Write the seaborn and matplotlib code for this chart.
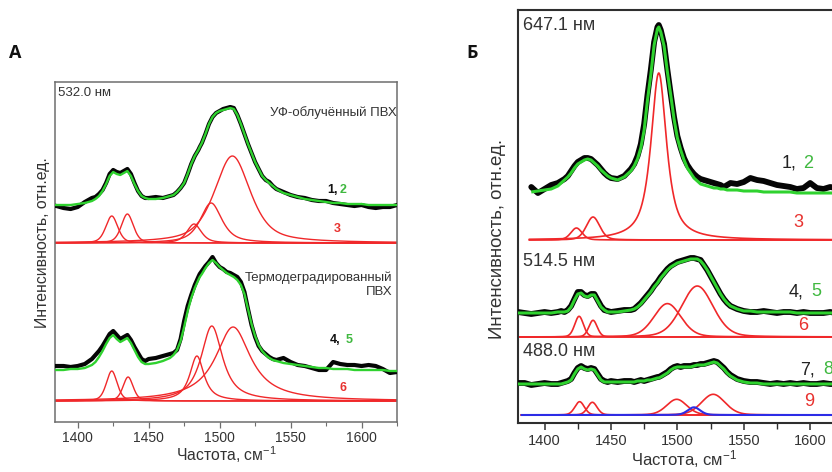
import numpy as np
import pandas as pd
import matplotlib
matplotlib.use("Agg")
import matplotlib.pyplot as plt
import seaborn as sns
from matplotlib.ticker import MultipleLocator

# ---------------- data ----------------
# Raman shift grid (cm^-1) on which the measured spectra and fit curves were read
freq_grid = [1380, 1385, 1390, 1395, 1400, 1405, 1410,
             1412.5, 1415, 1417.5, 1420, 1422.5, 1425, 1427.5, 1430, 1432.5,
             1435, 1437.5, 1440, 1442.5, 1445, 1447.5,
             1450, 1455, 1460, 1465,
             1467.5, 1470, 1472.5, 1475, 1477.5, 1480, 1482.5, 1485, 1486,
             1487.5, 1490, 1492.5, 1495, 1497.5, 1500, 1502.5, 1505, 1507.5,
             1510, 1512.5, 1515, 1517.5, 1520, 1522.5, 1525, 1527.5, 1530,
             1532.5, 1535, 1537.5, 1540,
             1545, 1550, 1555, 1560, 1565, 1570, 1575, 1580, 1585, 1590,
             1595, 1600, 1605, 1610, 1615, 1620, 1625, 1630]

# ---- Panel A, 532.0 nm, UV-irradiated PVC (curves 1, 2, 3) ----
a1_exp = [38, 37, 35, 34, 36, 41, 45, 46, 49, 53,
          60, 69, 73, 71, 70, 72, 74, 69, 60, 52,
          47, 45, 45, 46, 45, 47, 48, 51, 55, 60,
          69, 79, 87, 93, 96, 100, 109, 119, 126, 130,
          132, 134, 135, 136, 135, 128, 119, 109, 99, 90,
          81, 74, 67, 63, 61, 57, 54, 51, 48, 46,
          45, 43, 42, 42, 40, 39, 38, 37, 38, 36,
          35, 36, 36, 38, 38]
a1_fit = [38, 38, 38, 38, 39, 40, 42, 44, 47, 52,
          59, 67, 71, 69, 68, 70, 72, 67, 59, 52,
          47, 45, 44, 44, 45, 47, 48, 51, 55, 60,
          69, 79, 87, 93, 96, 100, 109, 119, 126, 130,
          132, 133, 134, 135, 134, 128, 119, 109, 99, 90,
          81, 74, 67, 63, 60, 57, 54, 50, 48, 46,
          44, 43, 42, 41, 40, 40, 39, 39, 39, 38,
          38, 38, 38, 38, 38]
a1_centers = [1424, 1435, 1482, 1494, 1509]
a1_heights = [27, 29, 19, 40, 87]
a1_widths = [10, 10, 12, 18, 30]
a1_eta = [0.4, 0.4, 0.6, 0.7, 0.6]

# ---- Panel A, thermodegraded PVC (curves 4, 5, 6) ----
a2_exp = [35, 35, 35, 34, 35, 37, 42, 46, 50, 55,
          61, 67, 70, 66, 62, 64, 66, 61, 54, 48,
          42, 40, 42, 43, 45, 47, 48, 51, 62, 80,
          95, 106, 116, 124, 127, 130, 135, 139, 144, 138,
          134, 132, 129, 128, 126, 124, 119, 109, 92, 76,
          64, 55, 50, 47, 44, 42, 41, 43, 39, 36,
          35, 33, 31, 31, 39, 37, 36, 36, 35, 36,
          35, 32, 28, 29, 30]
a2_fit = [31, 31, 31, 32, 32, 33, 36, 39, 44, 50,
          57, 63, 66, 62, 59, 61, 63, 58, 51, 44,
          39, 37, 37, 38, 40, 43, 46, 51, 60, 74,
          90, 103, 113, 121, 124, 127, 133, 138, 141, 138,
          134, 131, 128, 126, 124, 121, 116, 107, 92, 77,
          65, 56, 50, 46, 43, 41, 40, 38, 37, 36,
          35, 34, 33, 33, 32, 32, 32, 31, 31, 31,
          31, 31, 30, 30, 30]
a2_centers = [1424, 1435.5, 1484, 1494.5, 1509.5]
a2_heights = [30, 24, 45, 75, 74]
a2_widths = [9, 8.5, 12, 18, 30]
a2_eta = [0.4, 0.4, 0.9, 0.9, 1.0]

# ---- Panel B, 647.1 nm (curves 1, 2, 3), measured from 1390 cm^-1 ----
b1_exp = [53, 47, 51, 55, 57,
          59, 61, 64, 69, 74, 78, 80, 82, 82, 81, 78, 75, 71, 67, 64,
          62, 61, 64, 71,
          76, 84, 96, 116, 145, 170, 198, 213, 215, 210,
          196, 170, 146, 123, 104, 92, 82, 75, 70, 66,
          63, 61, 60, 59, 58, 57, 56, 55, 53, 55, 57,
          56, 58, 62, 60, 59, 57, 55, 54, 53, 51, 52, 57, 52, 51, 53, 52, 52, 52]
b1_fit = [48, 49, 50, 51, 54,
          57, 60, 63, 67, 72, 76, 78, 80, 81, 80, 77, 74, 70, 67, 64,
          62, 60, 63, 69,
          74, 81, 92, 110, 140, 165, 195, 211, 213, 208,
          194, 168, 145, 121, 102, 90, 80, 72, 67, 62,
          59, 56, 55, 54, 53, 52, 52, 51, 51, 50, 50,
          50, 49, 49, 49, 48, 48, 48, 48, 48, 47, 47, 47, 47, 47, 47, 47, 47, 47]
b1_centers = [1424, 1436.5, 1486]
b1_heights = [12, 23, 167]
b1_widths = [10, 12, 14]
b1_eta = [0.3, 0.3, 0.85]

# ---- Panel B, 514.5 nm (curves 4, 5, 6) ----
b2_exp = [25, 24, 23, 24, 25, 24, 25, 26, 25, 27,
          31, 38, 45, 45, 42, 41, 43, 43, 37, 31,
          27, 26, 25, 26, 27, 27, 28, 31, 34, 38,
          42, 46, 51, 55, 57, 60, 64, 68, 71, 73,
          75, 76, 77, 78, 79, 79, 78, 77, 72, 67,
          61, 55, 49, 43, 38, 34, 31, 28, 26, 25,
          25, 26, 25, 24, 25, 25, 24, 25, 24, 24,
          24, 25, 24, 24, 24]
b2_fit = [24, 24, 24, 24, 24, 24, 25, 25, 25, 26,
          30, 37, 43, 44, 41, 40, 42, 42, 36, 30,
          27, 25, 25, 25, 26, 27, 28, 30, 33, 37,
          41, 45, 50, 54, 56, 59, 63, 67, 70, 72,
          74, 75, 76, 77, 78, 78, 78, 76, 72, 67,
          61, 55, 49, 43, 38, 34, 31, 28, 26, 26,
          25, 25, 25, 25, 25, 25, 24, 24, 24, 24,
          24, 24, 24, 24, 24]
b2_centers = [1426, 1436.5, 1492.5, 1515]
b2_heights = [20.7, 16.7, 33.4, 51]
b2_widths = [7.8, 7.5, 24, 28]
b2_eta = [0.2, 0.2, 0.2, 0.2]

# ---- Panel B, 488.0 nm (curves 7, 8, 9; one band in blue) ----
b3_exp = [32, 32, 30, 31, 32, 31, 31, 32, 33, 34,
          36, 42, 47, 49, 47, 46, 47, 46, 41, 36,
          34, 33, 34, 33, 34, 34, 33, 34, 35, 34,
          35, 36, 37, 38, 38, 39, 41, 43, 46, 48,
          49, 48, 49, 49, 49, 50, 50, 51, 51, 52,
          53, 54, 53, 50, 47, 43, 40, 36, 34, 33,
          33, 32, 31, 32, 31, 32, 31, 32, 31, 31,
          32, 31, 31, 32, 31]
b3_fit = [31, 31, 31, 31, 31, 31, 31, 31, 32, 33,
          35, 41, 46, 48, 46, 45, 46, 45, 40, 35,
          33, 33, 33, 33, 33, 33, 33, 34, 34, 34,
          35, 35, 36, 37, 37, 38, 40, 42, 45, 47,
          48, 48, 48, 48, 48, 49, 50, 50, 50, 51,
          52, 53, 52, 49, 46, 42, 39, 35, 33, 32,
          32, 31, 31, 31, 31, 31, 31, 31, 31, 31,
          31, 31, 31, 31, 31]
b3_centers = [1426.4, 1436, 1499.5, 1527]
b3_heights = [13.3, 12.7, 15.7, 20.7]
b3_widths = [8.5, 8.5, 18, 21]
b3_eta = [0.2, 0.2, 0.2, 0.2]
b3_blue_centers = [1512.5]
b3_blue_heights = [7.7]
b3_blue_widths = [11]
b3_blue_eta = [0.2]

# ---------------- style ----------------
sns.set_theme(style="white")
plt.rcParams['font.family'] = ['Liberation Sans', 'DejaVu Sans']
plt.rcParams['mathtext.fontset'] = 'custom'
plt.rcParams['mathtext.rm'] = 'Liberation Sans'
plt.rcParams['mathtext.default'] = 'regular'

BLACK = '#050505'
GREEN = '#2fd22f'
RED = '#f0282a'
BLUE = '#2c2ce6'
TXT_GREEN = '#3fb83f'
TXT_RED = '#e8322f'

W, H = 832, 472
fig = plt.figure(figsize=(W / 100, H / 100), dpi=100)


def box(l, t, r, b):
    return [l / W, 1 - b / H, (r - l) / W, (b - t) / H]


axA = fig.add_axes(box(55, 82, 397, 422))
axB = fig.add_axes(box(518, 10, 850, 423))


def pv(x, c, h, w, eta):
    d = (x - c) / (w / 2.0)
    return h * (eta / (1 + d ** 2) + (1 - eta) * np.exp(-np.log(2) * d ** 2))


def line(ax, x, y, color, lw, z, cap='butt'):
    sns.lineplot(x=x, y=y, ax=ax, color=color, linewidth=lw, estimator=None,
                 sort=False, legend=False, zorder=z, solid_capstyle=cap)


def draw(ax, base, exp, fit, bands, x0, x1, lws, blue=None):
    xf = np.linspace(x0, x1, 1200)
    for c, h, w, e in zip(*bands):
        line(ax, xf, base + pv(xf, c, h, w, e), RED, lws[2], 2)
    if blue is not None:
        for c, h, w, e in zip(*blue):
            line(ax, xf, base + pv(xf, c, h, w, e), BLUE, 1.5, 3)
    xe = np.array(freq_grid[len(freq_grid) - len(exp):], dtype=float)
    xg = np.array(freq_grid[len(freq_grid) - len(fit):], dtype=float)
    line(ax, xe, base + np.array(exp, dtype=float), BLACK, lws[0], 4, cap='round')
    line(ax, xg, base + np.array(fit, dtype=float), GREEN, lws[1], 5)


lwA = (3.0, 1.7, 1.0)
lwB = (4.2, 2.2, 1.2)
draw(axA, 179, a1_exp, a1_fit, (a1_centers, a1_heights, a1_widths, a1_eta), 1380, 1630, lwA)
draw(axA, 21, a2_exp, a2_fit, (a2_centers, a2_heights, a2_widths, a2_eta), 1380, 1630, lwA)
draw(axB, 183, b1_exp, b1_fit, (b1_centers, b1_heights, b1_widths, b1_eta), 1388, 1632, lwB)
draw(axB, 86, b2_exp, b2_fit, (b2_centers, b2_heights, b2_widths, b2_eta), 1381, 1632, lwB)
draw(axB, 8, b3_exp, b3_fit, (b3_centers, b3_heights, b3_widths, b3_eta), 1382, 1632, lwB,
     blue=(b3_blue_centers, b3_blue_heights, b3_blue_widths, b3_blue_eta))

axA.set_xlim(1384, 1625)
axA.set_ylim(0, 340)
axB.set_xlim(1380, 1630)
axB.set_ylim(0, 413)

for ax, col, lw in ((axA, '#6e6e6e', 1.1), (axB, '#2e2e2e', 1.5)):
    ax.set_yticks([])
    ax.set_xlabel('')
    ax.set_ylabel('')
    ax.xaxis.set_major_locator(MultipleLocator(50))
    ax.xaxis.set_minor_locator(MultipleLocator(25))
    for s in ax.spines.values():
        s.set_color(col)
        s.set_linewidth(lw)
    ax.set_facecolor('white')

axA.tick_params(axis='x', which='major', bottom=True, direction='out', length=4, width=0.9,
                color='#6e6e6e', labelsize=10, labelcolor='#333333', pad=2.5)
axA.tick_params(axis='x', which='minor', bottom=True, direction='out', length=3, width=0.8, color='#6e6e6e')
axB.tick_params(axis='x', which='major', bottom=True, direction='out', length=5, width=1.1,
                color='#2e2e2e', labelsize=10.5, labelcolor='#333333', pad=3)
axB.tick_params(axis='x', which='minor', bottom=True, direction='out', length=4, width=1.0, color='#2e2e2e')


def t(x, y, s, **kw):
    kw.setdefault('va', 'center')
    kw.setdefault('color', '#333333')
    fig.text(x / W, 1 - y / H, s, **kw)


# panel A texts
t(15.5, 53, 'А', fontsize=13, fontweight='bold', ha='center', color='#111111', family=['Open Sans', 'DejaVu Sans'])
t(58, 93, '532.0 нм', fontsize=9.5, ha='left')
t(396.5, 113, 'УФ-облучённый ПВХ', fontsize=9.5, ha='right')
t(327, 190, '1,', fontsize=9, fontweight='bold', ha='left', color='#111111')
t(340, 190, '2', fontsize=9, fontweight='bold', ha='left', color=TXT_GREEN)
t(337.7, 229, '3', fontsize=9, fontweight='bold', ha='center', color=TXT_RED)
t(392.7, 285, 'Термодеградированный\nПВХ', fontsize=9.5, ha='right', multialignment='right', linespacing=1.2)
t(330, 340, '4,', fontsize=9, fontweight='bold', ha='left', color='#111111')
t(346, 340, '5', fontsize=9, fontweight='bold', ha='left', color=TXT_GREEN)
t(342.7, 388, '6', fontsize=9, fontweight='bold', ha='center', color=TXT_RED)
t(43, 243, 'Интенсивность, отн.ед.', fontsize=11.4, rotation=90, ha='center')
t(226, 455, 'Частота, см$^{-1}$', fontsize=11.3, ha='center')

# panel B texts
t(472.5, 53, 'Б', fontsize=13, fontweight='bold', ha='center', color='#111111', family=['Open Sans', 'DejaVu Sans'])
t(523, 25, '647.1 нм', fontsize=13, ha='left')
t(781.7, 163, '1,', fontsize=13, ha='left', color='#222222')
t(803, 163, '2', fontsize=13, ha='left', color=TXT_GREEN)
t(798, 223, '3', fontsize=13, ha='center', color=TXT_RED)
t(523, 262, '514.5 нм', fontsize=13, ha='left')
t(789, 292, '4,', fontsize=13, ha='left', color='#222222')
t(811.5, 292, '5', fontsize=13, ha='left', color=TXT_GREEN)
t(803, 326, '6', fontsize=13, ha='center', color=TXT_RED)
t(522.7, 352, '488.0 нм', fontsize=13, ha='left')
t(800, 370, '7,', fontsize=13, ha='left', color='#222222')
t(823, 370, '8', fontsize=13, ha='left', color=TXT_GREEN)
t(809, 402, '9', fontsize=13, ha='center', color=TXT_RED)
t(498, 239, 'Интенсивность, отн.ед.', fontsize=13.4, rotation=90, ha='center')
t(684, 459, 'Частота, см$^{-1}$', fontsize=12, ha='center')

fig.savefig('out.png', dpi=100, facecolor='white')
